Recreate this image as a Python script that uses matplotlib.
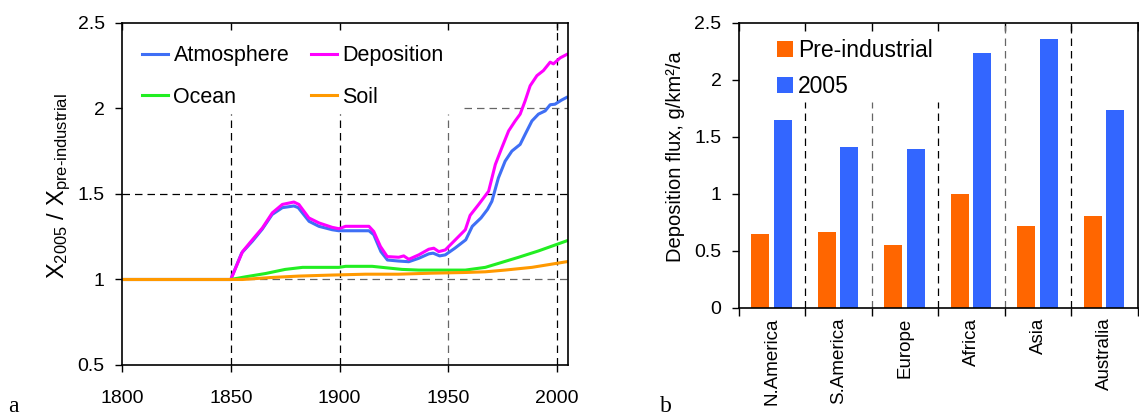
import matplotlib
matplotlib.use("Agg")
import matplotlib.pyplot as plt
from matplotlib.ticker import FormatStrFormatter, FixedLocator
import numpy as np

plt.rcParams['font.family'] = ['Liberation Sans', 'DejaVu Sans']
plt.rcParams['mathtext.fontset'] = 'custom'
plt.rcParams['mathtext.rm'] = 'Liberation Sans'
plt.rcParams['mathtext.it'] = 'Liberation Sans'

# ---- panel a: ratios X2005 / Xpre-industrial ----
atm_years = [1800, 1850, 1855, 1860, 1864.5, 1869, 1873.7, 1879, 1881, 1886, 1890.5,
             1896.6, 1899.7, 1913.5, 1915.7, 1919, 1922, 1927, 1931.8, 1936.4, 1941,
             1943, 1946, 1948.6, 1953, 1958, 1961, 1965, 1968, 1970, 1973, 1976.1,
             1979.2, 1983, 1985.3, 1988.4, 1991.4, 1994.5, 1996.8, 1999, 2002, 2004.4]
atm_vals = [1.0, 1.0, 1.155, 1.225, 1.295, 1.38, 1.42, 1.43, 1.42, 1.34, 1.311,
            1.291, 1.285, 1.285, 1.262, 1.163, 1.114, 1.108, 1.104, 1.124, 1.15,
            1.154, 1.138, 1.144, 1.183, 1.232, 1.311, 1.36, 1.41, 1.457, 1.594, 1.692,
            1.751, 1.79, 1.849, 1.927, 1.967, 1.986, 2.022, 2.025, 2.049, 2.065]

dep_years = [1800, 1850, 1855.4, 1859.9, 1864.5, 1869.1, 1873.7, 1879, 1881.3, 1885.9,
             1890.5, 1896.6, 1899.7, 1902.8, 1913.5, 1915.7, 1918.8, 1921.9, 1927.2,
             1929.5, 1931.8, 1936.4, 1941, 1943.3, 1945.6, 1948.6, 1953.2, 1957.8, 1960,
             1964, 1968.5, 1971.6, 1974.6, 1977.7, 1980.7, 1983, 1985.3, 1987.6, 1990.7,
             1993.7, 1996.8, 1998.3, 2001.4, 2004.4]
dep_vals = [1.0, 1.0, 1.163, 1.232, 1.301, 1.39, 1.439, 1.453, 1.439, 1.36,
            1.331, 1.305, 1.297, 1.311, 1.311, 1.281, 1.193, 1.134, 1.13,
            1.138, 1.118, 1.144, 1.177, 1.183, 1.163, 1.173, 1.232, 1.291, 1.375,
            1.44, 1.516, 1.673, 1.771, 1.869, 1.927, 1.967, 2.045, 2.133, 2.192,
            2.222, 2.271, 2.261, 2.296, 2.316]

ocean_years = [1800, 1850, 1856.9, 1866, 1875, 1883, 1899.7, 1902.8, 1915, 1921, 1928.7,
               1936.4, 1957.8, 1967, 1973, 1982.3, 1991.4, 2004.4]
ocean_vals = [1.0, 1.0, 1.016, 1.035, 1.059, 1.071, 1.071, 1.077, 1.077, 1.069, 1.059,
              1.055, 1.055, 1.071, 1.094, 1.13, 1.167, 1.226]

soil_years = [1800, 1855.4, 1869, 1881.3, 1896.6, 1912, 1927, 1942.5, 1957.8, 1967,
              1976, 1988.4, 2004.4]
soil_vals = [1.0, 1.0, 1.012, 1.02, 1.026, 1.031, 1.031, 1.037, 1.041, 1.045,
             1.055, 1.071, 1.104]

# ---- panel b: deposition flux by continent ----
regions = ['N.America', 'S.America', 'Europe', 'Africa', 'Asia', 'Australia']
pre_industrial = [0.645, 0.665, 0.55, 1.0, 0.716, 0.805]
flux_2005 = [1.65, 1.41, 1.395, 2.24, 2.36, 1.737]

fig = plt.figure(figsize=(11.39, 4.18), dpi=100)
ax1 = fig.add_axes([0.1071, 0.1268, 0.3916, 0.8182])
ax2 = fig.add_axes([0.6488, 0.2632, 0.3503, 0.6818])

# panel a
dash = (0, (6, 4))
ax1.vlines([1850, 1900], 0.5, 1.97, colors='black', lw=0.9, linestyles=[dash])
ax1.vlines([1950], 0.5, 1.97, colors='#666666', lw=0.9, linestyles=[dash])
ax1.vlines([2000], 0.5, 2.5, colors='black', lw=0.9, linestyles=[dash])
ax1.hlines([1.0], 1800, 2005, colors='#666666', lw=0.9, linestyles=[dash])
ax1.hlines([1.5], 1800, 2005, colors='black', lw=0.9, linestyles=[dash])
ax1.hlines([2.0], 1957, 2005, colors='#666666', lw=0.9, linestyles=[dash])

l_atm, = ax1.plot(atm_years, atm_vals, color='#3F6FF5', lw=2.2, label='Atmosphere')
l_dep, = ax1.plot(dep_years, dep_vals, color='#FF00FF', lw=2.2, label='Deposition')
l_oc, = ax1.plot(ocean_years, ocean_vals, color='#22EE22', lw=2.2, label='Ocean')
l_soil, = ax1.plot(soil_years, soil_vals, color='#FF9900', lw=2.2, label='Soil')

ax1.set_xlim(1800, 2005)
ax1.set_ylim(0.5, 2.5)
ax1.set_xticks([1800, 1850, 1900, 1950, 2000])
ax1.set_yticks([0.5, 1, 1.5, 2, 2.5])
ax1.yaxis.set_major_formatter(FormatStrFormatter('%g'))
ax1.tick_params(axis='both', labelsize=14, direction='out', length=5, width=1)
ax1.tick_params(axis='x', pad=13, top=True)
ax1.tick_params(axis='y', pad=7.5)
for t in ax1.xaxis.get_major_ticks():
    t.tick2line.set_marker(3)  # inward at top
for sp in ax1.spines.values():
    sp.set_linewidth(1.2)
ax1.set_ylabel('X$_{\\mathregular{2005}}$ / X$_{\\mathregular{pre\u2010industrial}}$',
               fontsize=17)
ax1.yaxis.set_label_coords(-0.11, 0.522)

ax1.legend([l_atm, l_oc, l_dep, l_soil], ['Atmosphere', 'Ocean', 'Deposition', 'Soil'],
           ncol=2, loc='upper left', bbox_to_anchor=(0.002, 0.992), frameon=False,
           fontsize=15.5, handlelength=1.2, handletextpad=0.25, columnspacing=1.0,
           labelspacing=0.95)

# panel b
x = np.arange(len(regions))
ax2.vlines([0.5, 2.5], 0, 1.81, colors='black', lw=0.9, linestyles=[dash])
ax2.vlines([1.5], 0, 1.81, colors='#666666', lw=0.9, linestyles=[dash])
ax2.vlines([3.5], 0, 2.5, colors='#666666', lw=0.9, linestyles=[dash])
ax2.vlines([4.5], 0, 2.5, colors='black', lw=0.9, linestyles=[dash])
ax2.bar(x - 0.18, pre_industrial, width=0.27, color='#FF6600', label='Pre-industrial')
ax2.bar(x + 0.16, flux_2005, width=0.27, color='#3366FF', label='2005')

ax2.set_xlim(-0.5, 5.5)
ax2.set_ylim(0, 2.5)
ax2.set_yticks([0, 0.5, 1, 1.5, 2, 2.5])
ax2.yaxis.set_major_formatter(FormatStrFormatter('%g'))
ax2.xaxis.set_major_locator(FixedLocator(np.arange(-0.5, 6, 1)))
ax2.xaxis.set_minor_locator(FixedLocator(x))
ax2.xaxis.set_major_formatter(plt.NullFormatter())
ax2.set_xticks(x, regions, minor=True, rotation=90)
ax2.tick_params(axis='x', which='minor', length=0, labelsize=13.5, pad=7)
ax2.tick_params(axis='x', which='major', length=6, width=1, direction='out', top=True)
for t in ax2.xaxis.get_major_ticks():
    t.tick2line.set_marker(3)
ax2.tick_params(axis='y', labelsize=14, length=5, width=1, direction='out', pad=7.5)
for sp in ax2.spines.values():
    sp.set_linewidth(1.2)
ax2.set_ylabel('Deposition flux, g/km\u00b2/a', fontsize=14.5)
ax2.yaxis.set_label_coords(-0.135, 0.53)
ax2.legend(loc='upper left', bbox_to_anchor=(0.0425, 1.016), frameon=False, fontsize=16.5,
           handlelength=0.7, handleheight=0.7, handletextpad=0.25, labelspacing=0.55)

fig.text(0.007, 0.015, 'a', family='Liberation Serif', fontsize=17)
fig.text(0.579, 0.015, 'b', family='Liberation Serif', fontsize=17)

fig.savefig('out.png', dpi=100)
